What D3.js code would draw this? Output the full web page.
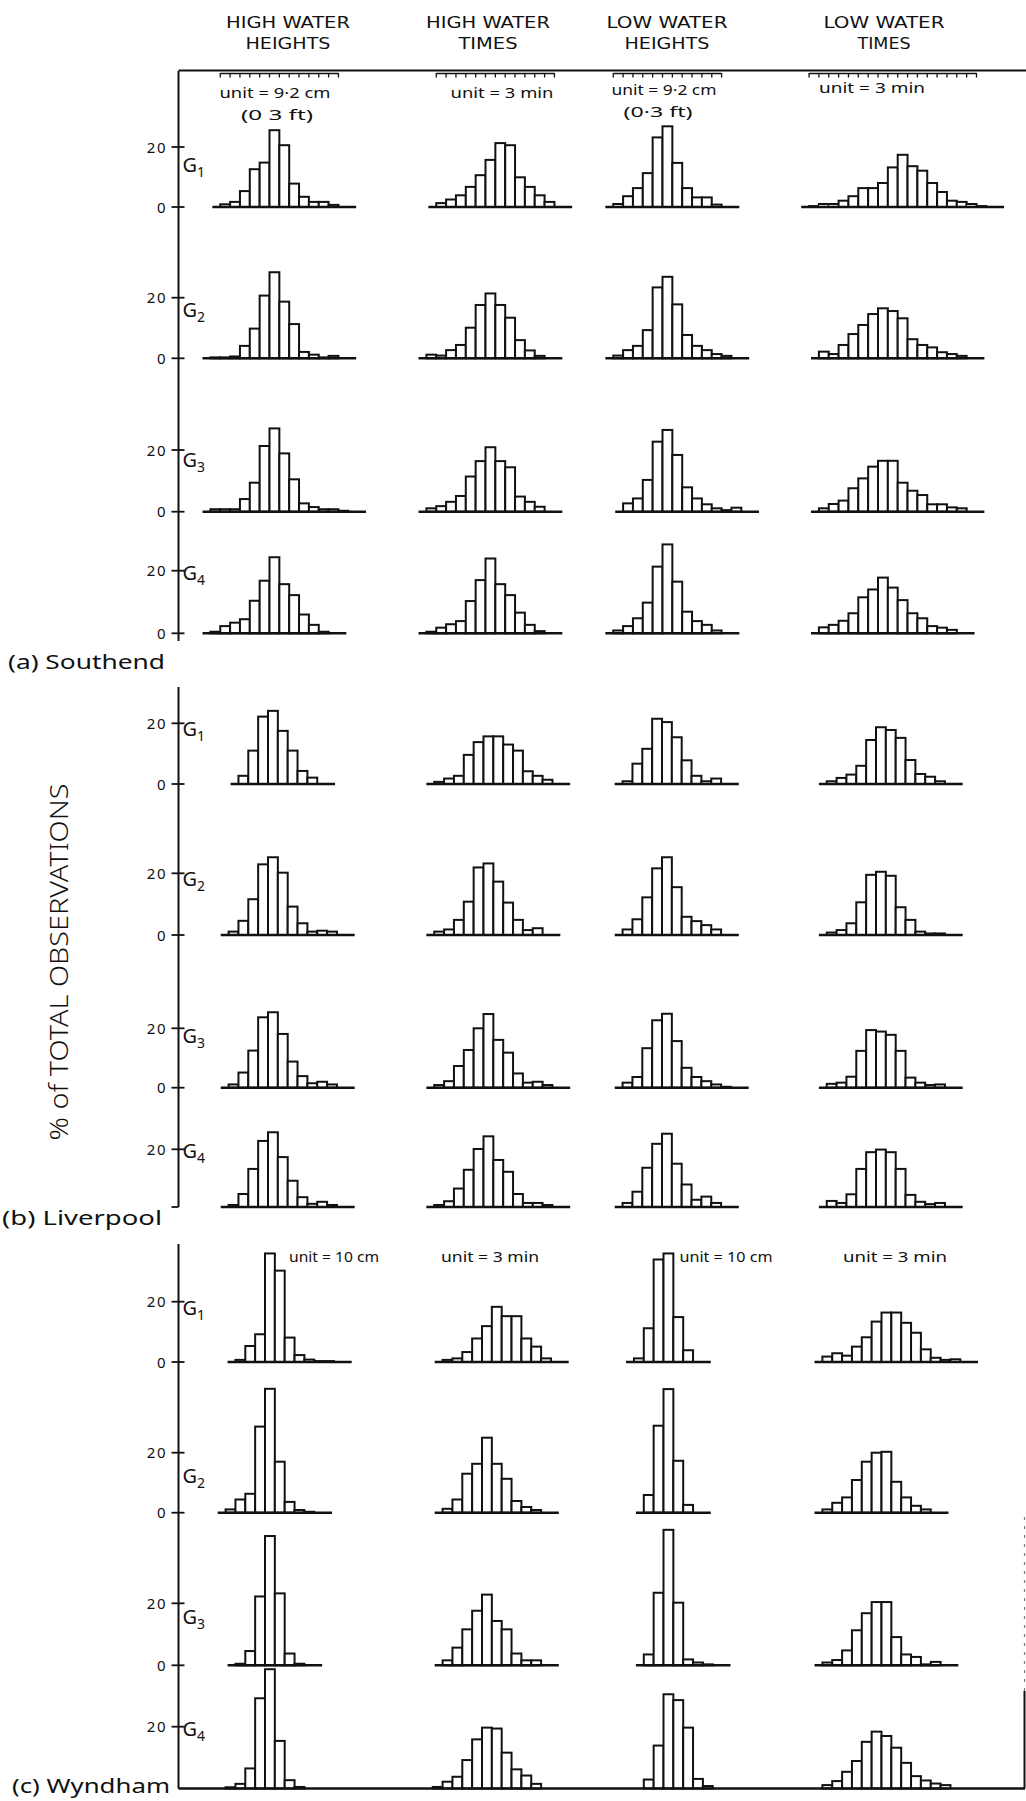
<!DOCTYPE html>
<html><head><meta charset="utf-8">
<script src="https://cdn.jsdelivr.net/npm/d3@7"></script>
<style>body{margin:0;background:#fff}svg{display:block}</style>
</head><body>
<svg id="chart" width="1026" height="1801"></svg>
<script>
// ---------------- DATA ----------------
const stations = ["(a) Southend", "(b) Liverpool", "(c) Wyndham"];
const columnTitles = [["HIGH WATER","HEIGHTS"],["HIGH WATER","TIMES"],["LOW WATER","HEIGHTS"],["LOW WATER","TIMES"]];
const groups = ["1","2","3","4"];            // G subscripts
const tickValues = [0, 20];                  // % of total observations
const yAxisTitle = "% of TOTAL OBSERVATIONS";
const southendUnits = ["unit = 9·2 cm","unit = 3 min","unit = 9·2 cm","unit = 3 min"];
const southendUnitsSub = ["(0 3 ft)","","(0·3 ft)",""];
const wyndhamUnits = ["unit = 10 cm","unit = 3 min","unit = 10 cm","unit = 3 min"];

// first bin (in units, relative to column reference bin) : [column][group]
const southendStart = [[-5,-6,-6,-6],[-5,-6,-6,-6],[-5,-5,-4,-5],[-7,-6,-6,-6]];
const liverpoolStart = [[-3,-4,-4,-4],[-5,-5,-5,-5],[-4,-4,-4,-4],[-5,-5,-5,-5]];
const wyndhamStart = [[-3,-4,-3,-4],[-4,-4,-4,-5],[-3,-2,-2,-2],[-6,-6,-6,-6]];

// % of total observations per bin, [group][bin]
const southendHWH = [
  [0.9,1.7,5.3,12.6,14.8,25.6,20.6,7.8,3.4,1.7,1.7,0.7],
  [0.3,0.3,0.6,4.1,9.8,20.7,28.4,18.7,11.3,2.1,1.2,0.3,0.8],
  [0.8,0.8,0.8,4.1,9.4,21.3,27.0,18.9,10.5,2.7,1.5,0.8,0.8,0.3],
  [0.5,2.3,3.4,4.5,10.4,16.8,24.3,15.7,12.2,6.0,2.7,0.5]];
const southendHWT = [
  [1.3,2.5,3.9,6.7,10.6,15.7,21.3,20.6,9.9,6.7,3.9,1.7],
  [1.2,0.9,2.7,4.4,10.1,17.6,21.4,17.6,13.4,6.0,2.6,0.8],
  [1.1,1.8,3.2,5.1,11.4,16.4,20.9,16.4,14.4,4.9,3.2,1.6],
  [0.5,1.8,2.9,3.9,10.3,17.0,23.9,15.7,12.2,6.6,2.7,0.7]];
const southendLWH = [
  [1.0,3.6,6.3,11.3,23.2,26.9,14.7,6.3,3.2,3.2,0.8],
  [0.9,2.7,4.1,9.3,23.4,26.9,17.8,7.7,4.1,2.7,1.4,0.8],
  [2.7,4.3,10.3,22.7,26.5,18.4,7.9,4.3,2.4,1.1,0.5,1.3],
  [0.9,2.3,4.8,9.8,21.3,28.4,16.5,6.9,3.9,2.7,0.9]];
const southendLWT = [
  [0.3,1.0,1.0,2.1,3.6,6.3,6.3,8.0,13.2,17.4,13.6,12.1,8.0,5.0,2.1,1.7,1.0,0.3],
  [2.2,1.4,4.4,8.0,11.0,14.6,16.5,15.6,13.2,6.3,4.4,3.6,2.0,1.4,0.8],
  [1.1,2.5,3.6,7.6,10.8,14.6,16.5,16.5,9.4,6.8,5.4,2.4,2.4,1.4,1.1],
  [1.9,2.7,4.0,6.4,11.5,14.0,17.8,14.6,10.6,6.4,4.8,2.3,1.8,1.1]];

const liverpoolHWH = [
  [2.7,11.0,22.2,24.1,17.5,11.0,4.3,2.1],
  [1.1,4.6,11.6,22.9,25.2,20.2,9.2,3.8,1.1,1.4,1.1],
  [1.1,5.1,12.5,23.7,25.4,18.1,8.8,3.9,1.5,2.0,1.1],
  [0.7,4.5,13.2,22.9,25.9,17.3,9.1,3.4,1.1,1.8,0.7]];
const liverpoolHWT = [
  [0.7,1.8,2.7,9.6,13.8,15.7,15.7,13.0,11.0,4.2,2.7,1.4],
  [1.1,1.8,4.9,10.8,21.9,23.2,17.3,10.5,4.9,1.6,2.2],
  [0.9,2.2,7.3,12.7,20.0,24.8,16.1,11.8,4.8,1.7,2.0,0.9],
  [0.7,2.0,6.4,12.9,20.1,24.5,16.3,12.2,4.5,1.4,1.4,0.7]];
const liverpoolLWH = [
  [0.9,6.7,11.6,21.5,20.4,15.4,7.8,2.7,0.9,1.8],
  [1.8,5.1,12.2,21.6,25.2,15.5,5.9,4.5,3.2,1.8],
  [1.7,3.6,13.3,22.7,24.9,15.7,6.7,3.6,2.2,1.1,0.3],
  [1.4,5.3,13.6,21.9,25.4,15.0,7.8,2.5,3.6,1.4]];
const liverpoolLWT = [
  [0.9,2.0,3.1,6.0,14.5,18.7,17.8,15.2,7.9,3.3,2.4,0.9],
  [0.8,1.6,3.8,10.6,19.5,20.5,19.2,9.0,4.9,1.1,0.5,0.5],
  [1.3,1.7,3.7,12.4,19.4,18.9,17.8,12.4,3.4,1.7,0.9,1.1],
  [2.1,1.4,4.4,13.2,19.0,19.9,19.0,13.2,4.2,1.8,1.0,1.4]];

const wyndhamHWH = [
  [0.7,5.3,9.2,36.0,30.3,8.1,2.3,0.8,0.3,0.3],
  [1.1,4.4,6.3,28.7,41.3,17.0,3.6,0.9,0.3],
  [0.5,4.6,22.2,41.7,23.2,3.8,0.5],
  [0.4,1.5,6.5,29.2,38.6,15.4,2.7,0.5]];
const wyndhamHWT = [
  [0.7,1.2,3.3,7.8,11.9,18.3,15.2,15.2,7.8,5.1,1.2],
  [1.3,4.4,13.0,16.3,25.0,16.3,11.3,3.9,1.9,0.9],
  [1.6,5.7,11.6,17.6,22.8,14.3,11.6,3.8,1.6,1.6],
  [0.5,2.2,3.8,9.2,15.9,19.7,19.4,11.6,6.2,4.2,1.5]];
const wyndhamLWH = [
  [1.2,11.2,34.0,36.0,14.9,3.9],
  [5.9,29.0,41.2,17.3,2.6],
  [3.5,23.4,43.7,20.2,1.9,0.9,0.3],
  [2.9,13.9,30.5,28.6,19.7,3.1,0.8]];
const wyndhamLWT = [
  [1.8,2.9,2.1,5.1,8.2,13.4,16.4,16.4,13.0,9.7,4.2,1.4,0.7,0.9],
  [1.1,3.3,5.1,10.9,17.0,20.0,20.3,10.3,5.1,2.3,1.1],
  [0.9,1.7,4.8,11.3,16.8,20.4,20.4,9.1,3.5,2.7,0.3,1.1],
  [1.1,2.4,5.4,8.9,15.1,18.4,17.0,13.2,8.3,4.0,2.6,1.6,1.1]];

// ---------------- LAYOUT ----------------
const W = 1026, binW = 9.85, axisX = 178.5;
const stationData = [
  {values:[southendHWH,southendHWT,southendLWH,southendLWT], starts:southendStart},
  {values:[liverpoolHWH,liverpoolHWT,liverpoolLWH,liverpoolLWT], starts:liverpoolStart},
  {values:[wyndhamHWH,wyndhamHWT,wyndhamLWH,wyndhamLWT], starts:wyndhamStart}
];
const stationLayout = [
  {axis:[71,641], zero:[207,358.3,511.7,633.3], twenty:[147,297.7,450,570.7],
   colRef:[269.5,485.5,662.5,878], gDy:[25,19,17,9], lastZero:true, fullBase:false,
   label:{x:8, y:669, len:157}},
  {axis:[687,1207], zero:[784,935,1087.7,1207], twenty:[723.3,873.3,1028.3,1149.3],
   colRef:[268,483.5,662,876], gDy:[13,13,15,9], lastZero:false, fullBase:false,
   label:{x:2, y:1225, len:160}},
  {axis:[1244,1788.5], zero:[1362,1512.7,1665.3,1788.5], twenty:[1301.7,1452.7,1603.3,1726.7],
   colRef:[265,482,663.5,881.5], gDy:[13,30,21,9], lastZero:false, fullBase:true,
   label:{x:12, y:1793, len:158}}
];

const svg = d3.select("#chart");
const ink = "#111";
const labelFont = "'Noto Sans','DejaVu Sans',sans-serif";
const condFont = "'DejaVu Sans Condensed','Liberation Sans Narrow','DejaVu Sans',sans-serif";

// column headers
const headerX = [288, 488, 667, 884];
const headerLen = [[124,85],[124,59],[121,85],[121,53]];
columnTitles.forEach((lines, c) => {
  lines.forEach((t, i) => {
    svg.append("text").attr("x", headerX[c]).attr("y", i ? 49 : 28)
      .attr("text-anchor","middle").attr("font-family", condFont)
      .attr("font-size", 16).attr("fill", ink)
      .attr("textLength", headerLen[c][i]).attr("lengthAdjust","spacingAndGlyphs")
      .text(t);
  });
});

// Southend top frame + rulers
svg.append("line").attr("x1", axisX).attr("x2", W).attr("y1", 70.5).attr("y2", 70.5)
  .attr("stroke", ink).attr("stroke-width", 2);
const rulerBins = [[-5,7],[-5,7],[-5,6],[-7,10]];
rulerBins.forEach((r, c) => {
  const x = d3.scaleLinear().domain([0,1]).range([stationLayout[0].colRef[c], stationLayout[0].colRef[c] + binW]);
  svg.append("line").attr("x1", x(r[0])).attr("x2", x(r[1])).attr("y1", 73.5).attr("y2", 73.5)
    .attr("stroke", ink).attr("stroke-width", 1.5);
  svg.selectAll(null).data(d3.range(r[0], r[1] + 1)).enter().append("line")
    .attr("x1", d => x(d)).attr("x2", d => x(d)).attr("y1", 73).attr("y2", 77.5)
    .attr("stroke", ink).attr("stroke-width", 1.3);
});

// unit labels
const suX = [275, 502, 664, 872], suY = [98, 98, 95, 93];
southendUnits.forEach((t, c) => {
  svg.append("text").attr("x", suX[c]).attr("y", suY[c]).attr("text-anchor","middle")
    .attr("font-family", labelFont).attr("font-size", 14).attr("fill", ink)
    .attr("textLength", [111,103,105,106][c]).attr("lengthAdjust","spacingAndGlyphs").text(t);
});
southendUnitsSub.forEach((t, c) => {
  if (!t) return;
  svg.append("text").attr("x", [277,0,658,0][c]).attr("y", [120,0,117,0][c]).attr("text-anchor","middle")
    .attr("font-family", labelFont).attr("font-size", 15).attr("fill", ink)
    .attr("textLength", [72,0,69,0][c]).attr("lengthAdjust","spacingAndGlyphs").text(t);
});
const wuX = [334, 490, 726, 895], wuLen = [90, 98, 93, 104];
wyndhamUnits.forEach((t, c) => {
  svg.append("text").attr("x", wuX[c]).attr("y", 1262).attr("text-anchor","middle")
    .attr("font-family", labelFont).attr("font-size", 14).attr("fill", ink)
    .attr("textLength", wuLen[c]).attr("lengthAdjust","spacingAndGlyphs").text(t);
});

// y-axis title
svg.append("text").attr("transform", "translate(68,962) rotate(-90)")
  .attr("text-anchor","middle").attr("font-family", labelFont).attr("font-weight", 300)
  .attr("font-size", 25).attr("fill", ink)
  .attr("textLength", 357).attr("lengthAdjust","spacingAndGlyphs").text(yAxisTitle);

// stations
stationLayout.forEach((L, s) => {
  const D = stationData[s];
  // vertical axis
  svg.append("line").attr("x1", axisX).attr("x2", axisX).attr("y1", L.axis[0]).attr("y2", L.axis[1])
    .attr("stroke", ink).attr("stroke-width", 2);
  // station label
  svg.append("text").attr("x", L.label.x).attr("y", L.label.y)
    .attr("font-family", labelFont).attr("font-size", 19).attr("fill", ink)
    .attr("textLength", L.label.len).attr("lengthAdjust","spacingAndGlyphs").text(stations[s]);

  groups.forEach((g, r) => {
    const y = d3.scaleLinear().domain([0, 20]).range([L.zero[r], L.twenty[r]]);
    const last = r === groups.length - 1;
    // ticks
    tickValues.forEach(v => {
      if (v === 0 && last && L.fullBase) return;
      svg.append("line").attr("x1", axisX - 7).attr("x2", axisX + (v === 0 && last && !L.lastZero ? 0 : 6))
        .attr("y1", y(v)).attr("y2", y(v)).attr("stroke", ink).attr("stroke-width", 1.8);
      if (v === 0 && last && !L.lastZero) return;
      svg.append("text").attr("x", 167).attr("y", y(v) + 5.5).attr("text-anchor","end")
        .attr("font-family", labelFont).attr("font-size", 15).attr("letter-spacing", 1.5)
        .attr("fill", ink).text(v);
    });
    // G label
    const gl = svg.append("text").attr("x", 182.5).attr("y", y(20) + L.gDy[r])
      .attr("font-family", labelFont).attr("font-size", 20).attr("fill", ink);
    gl.append("tspan").text("G");
    gl.append("tspan").attr("dy", 5).attr("font-size", 14).text(g);

    // histograms
    D.values.forEach((colVals, c) => {
      const vals = colVals[r], start = D.starts[c][r];
      const x = d3.scaleLinear().domain([0, 1]).range([L.colRef[c], L.colRef[c] + binW]);
      const bins = vals.map((v, i) => ({b: start + i, v}));
      const gH = svg.append("g");
      gH.selectAll("rect").data(bins).enter().append("rect")
        .attr("x", d => x(d.b)).attr("width", binW)
        .attr("y", d => y(d.v)).attr("height", d => y(0) - y(d.v))
        .attr("fill", "#fff").attr("stroke", ink).attr("stroke-width", 2);
      if (!(last && L.fullBase)) {
        gH.append("line").attr("x1", x(start - 0.8)).attr("x2", x(start + vals.length + 1.8))
          .attr("y1", y(0)).attr("y2", y(0)).attr("stroke", ink).attr("stroke-width", 2.4);
      }
    });
    if (last && L.fullBase) {
      svg.append("line").attr("x1", axisX).attr("x2", 1025).attr("y1", y(0)).attr("y2", y(0))
        .attr("stroke", ink).attr("stroke-width", 2.4);
      svg.append("line").attr("x1", 1024.5).attr("x2", 1024.5).attr("y1", 1691).attr("y2", y(0))
        .attr("stroke", ink).attr("stroke-width", 2);
      svg.append("line").attr("x1", 1024.5).attr("x2", 1024.5).attr("y1", 1517).attr("y2", 1691)
        .attr("stroke", "#777").attr("stroke-width", 1.2).attr("stroke-dasharray", "3 6");
    }
  });
});
</script>
</body></html>
